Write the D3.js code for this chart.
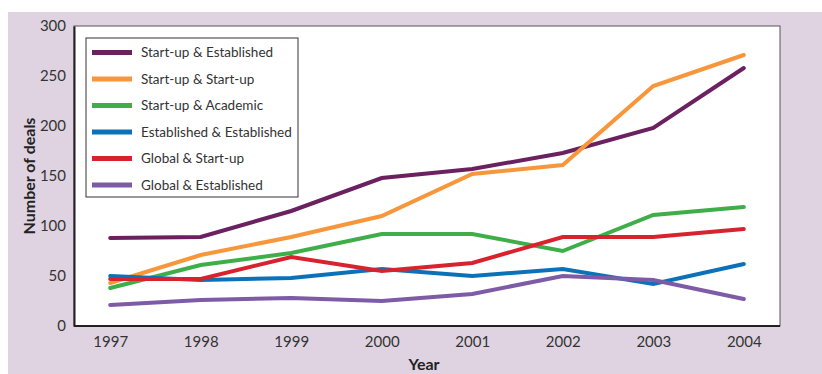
<!DOCTYPE html>
<html>
<head>
<meta charset="utf-8">
<script src="https://cdn.jsdelivr.net/npm/d3@7"></script>
<style>
  html, body { margin: 0; padding: 0; background: #fff; }
  svg { display: block; }
  text { font-family: Lato, "Open Sans", sans-serif; fill: #333; }
</style>
</head>
<body>
<svg id="chart" width="822" height="374"></svg>
<script>
// Deal counts per partnership type, 1997–2004
const years = ["1997", "1998", "1999", "2000", "2001", "2002", "2003", "2004"];
const seriesNames = [
  "Start-up & Established",
  "Start-up & Start-up",
  "Start-up & Academic",
  "Established & Established",
  "Global & Start-up",
  "Global & Established"
];
const startupEstablished   = [88, 89, 115, 148, 157, 173, 198, 258];
const startupStartup       = [43, 71, 89, 110, 152, 161, 240, 271];
const startupAcademic      = [38, 61, 73, 92, 92, 75, 111, 119];
const establishedEstab     = [50, 46, 48, 57, 50, 57, 42, 62];
const globalStartup        = [47, 47, 69, 55, 63, 89, 89, 97];
const globalEstablished    = [21, 26, 28, 25, 32, 50, 46, 27];
const seriesColors = ["#6b215f", "#f7963b", "#3fae49", "#0b72b9", "#d7232e", "#7d5ba6"];
const yTicks = [0, 50, 100, 150, 200, 250, 300];

const seriesValues = [startupEstablished, startupStartup, startupAcademic,
                      establishedEstab, globalStartup, globalEstablished];
const series = seriesNames.map((name, i) => ({
  name, color: seriesColors[i],
  values: years.map((y, j) => ({ year: y, value: seriesValues[i][j] }))
}));

const svg = d3.select("#chart");
const W = 822, H = 374;
const plot = { left: 74, top: 26, right: 780, bottom: 326 };

// Panel background
svg.append("rect")
  .attr("x", 8).attr("y", 12)
  .attr("width", W - 8).attr("height", H - 12)
  .attr("fill", "#dfd3e1");

// Plot area
svg.append("rect")
  .attr("x", plot.left).attr("y", plot.top)
  .attr("width", plot.right - plot.left).attr("height", plot.bottom - plot.top)
  .attr("fill", "#fff")
  .attr("stroke", "#555").attr("stroke-width", 1);

const x = d3.scalePoint().domain(years).range([plot.left, plot.right]).padding(0.4);
const y = d3.scaleLinear().domain([0, 300]).range([plot.bottom, plot.top]);

// Axes
const xAxis = svg.append("g")
  .attr("transform", `translate(0,${plot.bottom})`)
  .call(d3.axisBottom(x).tickSize(0).tickPadding(10));
xAxis.select(".domain").attr("stroke", "#222").attr("stroke-width", 2)
  .attr("d", `M${plot.left},0H${plot.right}`);
xAxis.selectAll("text").attr("font-size", 15).attr("fill", "#333")
  .attr("font-family", "Lato, sans-serif");

const yAxis = svg.append("g")
  .attr("transform", `translate(${plot.left},0)`)
  .call(d3.axisLeft(y).tickValues(yTicks).tickSize(0).tickPadding(8));
yAxis.select(".domain").attr("stroke", "#222").attr("stroke-width", 2);
yAxis.selectAll("text").attr("font-size", 15).attr("fill", "#333")
  .attr("font-family", "Lato, sans-serif");

// Axis titles
svg.append("text")
  .attr("x", (plot.left + plot.right) / 2 - 3).attr("y", 370)
  .attr("text-anchor", "middle")
  .attr("font-size", 16).attr("font-weight", "bold").style("fill", "#222")
  .text("Year");
svg.append("text")
  .attr("transform", `translate(35,${(plot.top + plot.bottom) / 2}) rotate(-90)`)
  .attr("text-anchor", "middle")
  .attr("font-size", 16).attr("font-weight", "bold").style("fill", "#222")
  .text("Number of deals");

// Lines
const line = d3.line().x(d => x(d.year)).y(d => y(d.value));
svg.append("g").selectAll("path")
  .data(series)
  .join("path")
  .attr("d", d => line(d.values))
  .attr("fill", "none")
  .attr("stroke", d => d.color)
  .attr("stroke-width", 4)
  .attr("stroke-linejoin", "miter")
  .attr("stroke-linecap", "round");

// Legend
const legend = svg.append("g");
legend.append("rect")
  .attr("x", 86).attr("y", 38).attr("width", 212).attr("height", 159)
  .attr("fill", "#fff").attr("stroke", "#333").attr("stroke-width", 1);
const rowStep = 26.5;
const items = legend.selectAll("g.item").data(series).join("g")
  .attr("class", "item")
  .attr("transform", (d, i) => `translate(0,${52.5 + i * rowStep})`);
items.append("line")
  .attr("x1", 92).attr("x2", 132)
  .attr("stroke", d => d.color).attr("stroke-width", 5);
items.append("text")
  .attr("x", 141).attr("y", 0).attr("dy", "0.35em")
  .attr("font-size", 13.5)
  .text(d => d.name);
</script>
</body>
</html>
